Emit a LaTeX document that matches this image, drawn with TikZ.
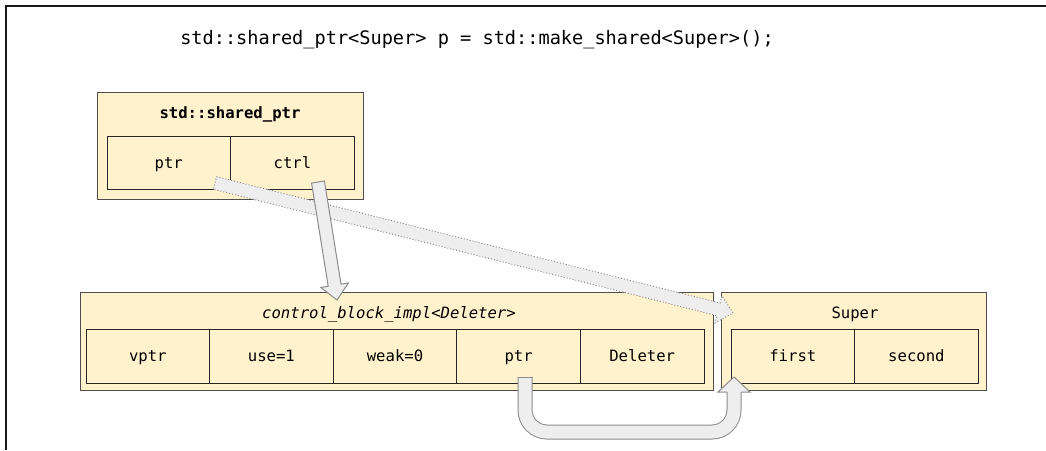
\documentclass[tikz,border=0pt]{standalone}
\usepackage{fontspec}
\setmonofont{DejaVu Sans Mono}
\usetikzlibrary{positioning,calc}
\definecolor{boxfill}{HTML}{FFF2CC}
\definecolor{arrowfill}{HTML}{EEEEEE}
\definecolor{arrowline}{HTML}{8C8C8C}

\begin{document}
\begin{tikzpicture}[x=1pt, y=-1pt,
           every node/.style = {font=\ttfamily\fontsize{15.6}{18}\selectfont,
             text height=11.4pt, text depth=0pt},
           outer/.style = {shape=rectangle, draw=black!70, fill=boxfill,
             line width=1pt, outer sep=0pt, inner sep=0pt, anchor=north west},
           cell/.style = {shape=rectangle, draw=black!85, fill=boxfill,
             line width=1pt, outer sep=0pt, inner sep=0pt,
             minimum width=123.6pt, minimum height=54pt},
           blockarrow/.style = {fill=arrowfill, draw=arrowline,
             line width=1pt, line join=miter}]
  \useasboundingbox (0,0) rectangle (1046,450);
  \draw[line width=2.5pt, black!90] (6,450) -- (6,6) -- (1046,6);

  \node[font=\ttfamily\fontsize{18.6}{22}\selectfont, text height=13.6pt] (code) at (477,38)
    {std::shared\_ptr<Super> p = std::make\_shared<Super>();};

  % std::shared_ptr
  \node[outer, minimum width=266pt, minimum height=107pt] (sp) at (97,92) {};
  \node[font=\ttfamily\bfseries\fontsize{15.6}{18}\selectfont] (sp-name) at (230,113)
    {std::shared\_ptr};
  \node[cell, anchor=north west, minimum height=53pt] (sp-ptr) at (107,136) {ptr};
  \node[cell, right=0pt of sp-ptr, minimum height=53pt] (sp-ctrl) {ctrl};

  % control block
  \node[outer, minimum width=633pt, minimum height=98pt] (cb) at (80,292) {};
  \node[font=\ttfamily\itshape\fontsize{15.6}{18}\selectfont] (cb-name) at (389,313)
    {control\_block\_impl<Deleter>};
  \node[cell, anchor=north west] (cb-vptr) at (86,329) {vptr};
  \node[cell, right=0pt of cb-vptr] (cb-use) {use=1};
  \node[cell, right=0pt of cb-use] (cb-weak) {weak=0};
  \node[cell, right=0pt of cb-weak] (cb-ptr) {ptr};
  \node[cell, right=0pt of cb-ptr] (cb-del) {Deleter};

  % Super
  \node[outer, minimum width=265pt, minimum height=98pt] (super) at (721,292) {};
  \node (super-name) at (855,313) {Super};
  \node[cell, anchor=north west] (super-first) at (731,329) {first};
  \node[cell, right=0pt of super-first] (super-second) {second};

  % arrows
  \coordinate (ptr-out) at (215,183);
  \coordinate (super-in) at (733,313);
  \coordinate (ctrl-out) at (318,182);
  \coordinate (cb-in) at (337,300);
  \coordinate (cbptr-out) at (525,377);
  \coordinate (first-in) at (734,377);

  \foreach \from/\to/\edge in {ptr-out/super-in/dotted, ctrl-out/cb-in/solid} {
    \coordinate (hb) at ($(\to)!15pt!(\from)$);
    \filldraw[blockarrow, \edge]
      ($(\from)!6.5pt!90:(\to)$) -- ($(hb)!6.5pt!90:(\to)$) -- ($(hb)!14pt!90:(\to)$)
      -- (\to) -- ($(hb)!14pt!-90:(\to)$) -- ($(hb)!6.5pt!-90:(\to)$)
      -- ($(\from)!6.5pt!-90:(\to)$) -- cycle;
  }

  \draw[arrowline, line width=1pt, double=arrowfill, double distance=13pt,
        rounded corners=22pt]
    (cbptr-out) |- ($(first-in)+(0,55)$) -- ($(first-in)+(0,14)$);
  \draw[arrowline, line width=1pt] ($(cbptr-out)+(-7.5,0)$) -- ($(cbptr-out)+(7.5,0)$);
  \fill[arrowfill] ($(first-in)+(-16,15)$) -- (first-in) -- ($(first-in)+(16,15)$) -- cycle;
  \draw[blockarrow, fill=none] ($(first-in)+(-7,15)$) -- ($(first-in)+(-16,15)$)
    -- (first-in) -- ($(first-in)+(16,15)$) -- ($(first-in)+(7,15)$);
\end{tikzpicture}
\end{document}
